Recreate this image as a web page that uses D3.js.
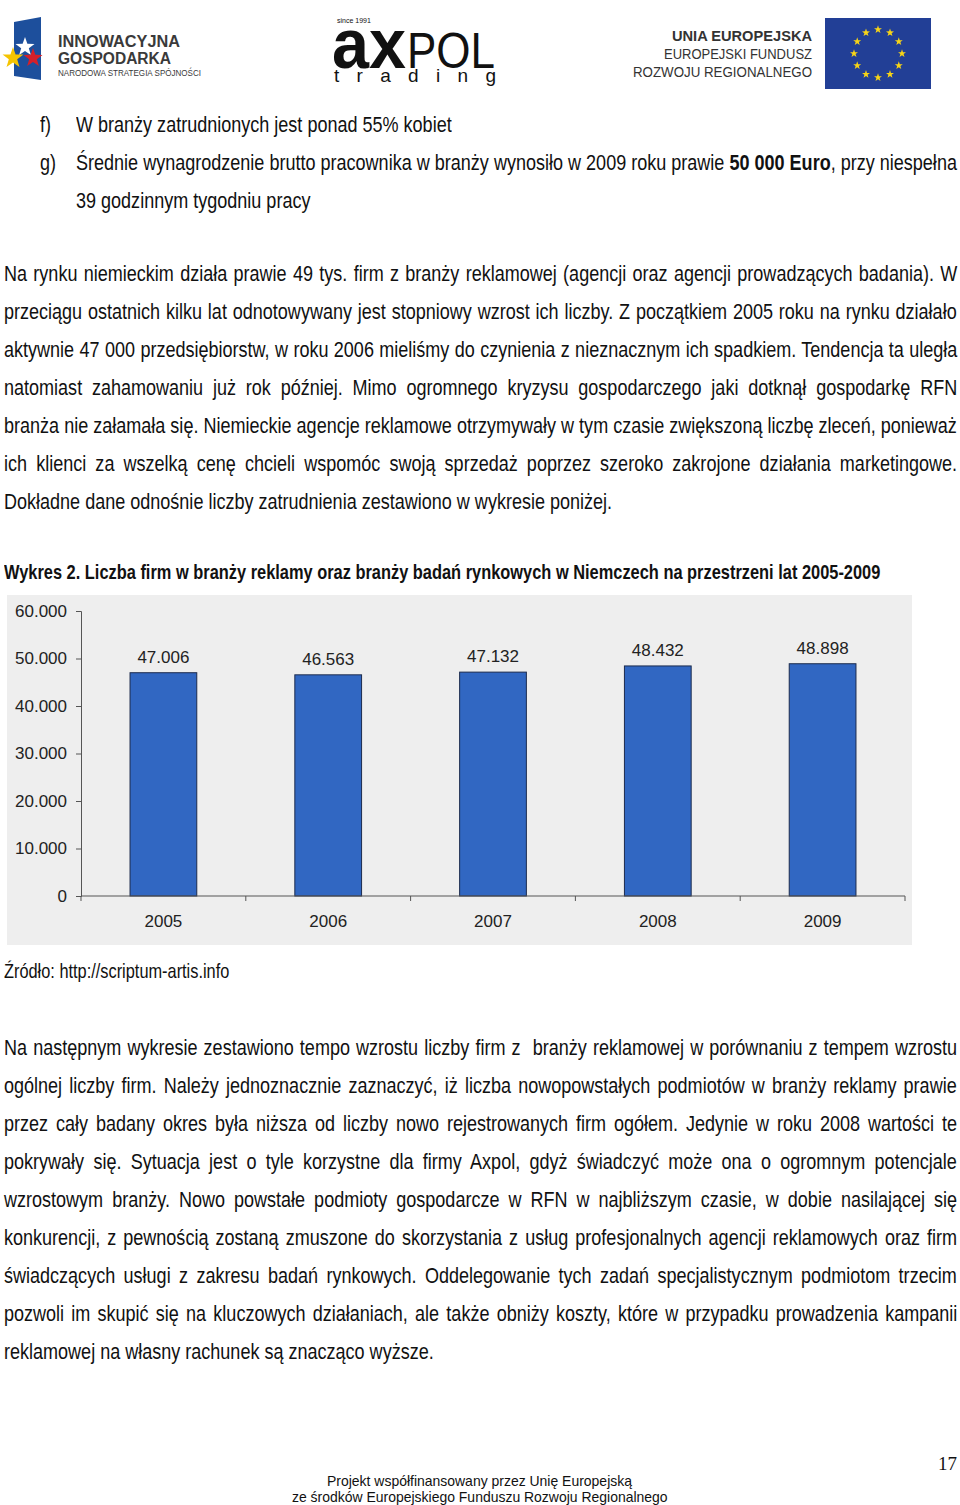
<!DOCTYPE html>
<html><head><meta charset="utf-8">
<script src="https://cdn.jsdelivr.net/npm/d3@7"></script>
<style>
html,body{margin:0;padding:0;background:#fff;}
#page{position:relative;width:960px;height:1505px;overflow:hidden;background:#fff;}
svg{position:absolute;left:0;top:0;}
.ln{position:absolute;white-space:pre;font-family:"Liberation Sans",Arial,sans-serif;font-size:22px;color:#111;line-height:1;transform-origin:0 0;}
</style></head>
<body><div id="page"></div>
<script>
// ---------- data ----------
const years = ["2005","2006","2007","2008","2009"];
const firms = [47006, 46563, 47132, 48432, 48898];
const yTicks = [0,10000,20000,30000,40000,50000,60000];

const listLines = [
  {mark:"f)", text:"W branży zatrudnionych jest ponad 55% kobiet", just:false},
  {mark:"g)", text:"Średnie wynagrodzenie brutto pracownika w branży wynosiło w 2009 roku prawie <b>50 000 Euro</b>, przy niespełna", just:true},
  {mark:"", text:"39 godzinnym tygodniu pracy", just:false}
];
const para1 = [
  "Na rynku niemieckim działa prawie 49 tys. firm z branży reklamowej (agencji oraz agencji prowadzących badania). W",
  "przeciągu ostatnich kilku lat odnotowywany jest stopniowy wzrost ich liczby. Z początkiem 2005 roku na rynku działało",
  "aktywnie 47 000 przedsiębiorstw, w roku 2006 mieliśmy do czynienia z nieznacznym ich spadkiem. Tendencja ta uległa",
  "natomiast zahamowaniu już rok później. Mimo ogromnego kryzysu gospodarczego jaki dotknął gospodarkę RFN",
  "branża nie załamała się. Niemieckie agencje reklamowe otrzymywały w tym czasie zwiększoną liczbę zleceń, ponieważ",
  "ich klienci za wszelką cenę chcieli wspomóc swoją sprzedaż poprzez szeroko zakrojone działania marketingowe.",
  "Dokładne dane odnośnie liczby zatrudnienia zestawiono w wykresie poniżej."
];
const chartTitle = "Wykres 2. Liczba firm w branży reklamy oraz branży badań rynkowych w Niemczech na przestrzeni lat 2005-2009";
const sourceText = "Źródło: http://scriptum-artis.info";
const para2 = [
  "Na następnym wykresie zestawiono tempo wzrostu liczby firm z  branży reklamowej w porównaniu z tempem wzrostu",
  "ogólnej liczby firm. Należy jednoznacznie zaznaczyć, iż liczba nowopowstałych podmiotów w branży reklamy prawie",
  "przez cały badany okres była niższa od liczby nowo rejestrowanych firm ogółem. Jedynie w roku 2008 wartości te",
  "pokrywały się. Sytuacja jest o tyle korzystne dla firmy Axpol, gdyż świadczyć może ona o ogromnym potencjale",
  "wzrostowym branży. Nowo powstałe podmioty gospodarcze w RFN w najbliższym czasie, w dobie nasilającej się",
  "konkurencji, z pewnością zostaną zmuszone do skorzystania z usług profesjonalnych agencji reklamowych oraz firm",
  "świadczących usługi z zakresu badań rynkowych. Oddelegowanie tych zadań specjalistycznym podmiotom trzecim",
  "pozwoli im skupić się na kluczowych działaniach, ale także obniży koszty, które w przypadku prowadzenia kampanii",
  "reklamowej na własny rachunek są znacząco wyższe."
];
const footerLines = ["Projekt współfinansowany przez Unię Europejską","ze środków Europejskiego Funduszu Rozwoju Regionalnego"];
const pageNumber = "17";

// ---------- helpers ----------
const page = d3.select("#page");
function natWidth(html, size, bold) {
  const d = page.append("div").attr("class","ln").html(html).style("font-size",size+"px").style("visibility","hidden");
  if (bold) d.style("font-weight","bold");
  const w = d.node().offsetWidth; d.remove(); return w;
}
// narrow-face emulation: horizontal squeeze of Liberation Sans
const FS = 22;
const SX = 376 / natWidth(listLines[0].text, FS);

function line(html, x, baseline, opts={}) {
  const fs = opts.size || FS;
  const sx = opts.scale || SX;
  const d = page.append("div").attr("class","ln").html(html)
    .style("left", x+"px").style("font-size", fs+"px")
    .style("top", (baseline - fs*0.8465)+"px")
    .style("transform", `scaleX(${sx})`);
  if (opts.bold) d.style("font-weight","bold");
  const node = d.node();
  const w = node.offsetWidth;
  if (opts.right != null) {
    const target = (opts.right - x)/sx;
    const spaces = (node.textContent.match(/ /g)||[]).length;
    if (spaces) d.style("word-spacing", ((target - w)/spaces)+"px");
  }
  if (opts.center != null) d.style("left", (opts.center - w*sx/2)+"px");
  return d;
}

// ---------- text ----------
const LH = 38;
listLines.forEach((l,i)=>{
  const b = 133 + i*LH;
  if (l.mark) line(l.mark, 40, b);
  line(l.text, 76, b, l.just ? {right:957} : {});
});
para1.forEach((t,i)=>{
  line(t, 4, 282 + i*LH, i < para1.length-1 ? {right:957} : {});
});
line(chartTitle, 4, 579, {bold:true, size:21, scale: 876/natWidth(chartTitle,21,true)});
line(sourceText, 4, 977.5, {size:21, scale: 225/natWidth(sourceText,21)});
para2.forEach((t,i)=>{
  line(t, 4, 1056 + i*LH, i < para2.length-1 ? {right:957} : {});
});
const footScale = 376/natWidth(footerLines[1],15);
footerLines.forEach((t,i)=>{
  line(t, 0, 1486 + i*16, {size:15, scale:footScale, center:480});
});
page.append("div").attr("class","ln").text(pageNumber)
  .style("font-family","'Liberation Serif','DejaVu Serif',serif").style("font-size","19px")
  .style("left","938px").style("top","1454px");

// ---------- svg (logos + chart) ----------
const svg = page.append("svg").attr("width",960).attr("height",1505);

function starPath(cx, cy, r) {
  const pts = [];
  for (let k=0;k<10;k++){
    const a = -Math.PI/2 + k*Math.PI/5;
    const rr = k%2===0 ? r : r*0.4;
    pts.push([cx+rr*Math.cos(a), cy+rr*Math.sin(a)]);
  }
  return "M"+pts.map(p=>p.join(",")).join("L")+"Z";
}

// left logo
const lg = svg.append("g").attr("font-family","'Liberation Sans',Arial,sans-serif").attr("fill","#3a3a3a");
lg.append("path").attr("d","M14,22 L41,17 L41,80 L14,76 Z").attr("fill","#1d4f9c");
lg.append("path").attr("d",starPath(25,47,10)).attr("fill","#ffffff");
lg.append("path").attr("d",starPath(13,58,11)).attr("fill","#f5c400");
lg.append("path").attr("d",starPath(33,58,10)).attr("fill","#d4202a");
lg.append("text").attr("x",58).attr("y",47).text("INNOWACYJNA").attr("font-weight","bold").attr("font-size",16)
  .attr("textLength",122).attr("lengthAdjust","spacingAndGlyphs");
lg.append("text").attr("x",58).attr("y",64).text("GOSPODARKA").attr("font-weight","bold").attr("font-size",16)
  .attr("textLength",113).attr("lengthAdjust","spacingAndGlyphs");
lg.append("text").attr("x",58).attr("y",76).text("NARODOWA STRATEGIA SPÓJNOŚCI").attr("font-size",9)
  .attr("textLength",143).attr("lengthAdjust","spacingAndGlyphs");

// center logo
const cg = svg.append("g").attr("font-family","'Liberation Sans',Arial,sans-serif").attr("fill","#111");
cg.append("text").attr("x",337).attr("y",23).text("since 1991").attr("font-size",7);
cg.append("text").attr("x",332).attr("y",68).text("ax").attr("font-weight","bold").attr("font-size",70)
  .attr("textLength",74).attr("lengthAdjust","spacingAndGlyphs");
cg.append("text").attr("x",407).attr("y",68).text("POL").attr("font-size",50)
  .attr("textLength",88).attr("lengthAdjust","spacingAndGlyphs");
cg.append("text").attr("x",334).attr("y",82).text("trading").attr("font-size",19)
  .attr("textLength",162).attr("lengthAdjust","spacing");

// right logo
const rg = svg.append("g").attr("font-family","'Liberation Sans',Arial,sans-serif").attr("fill","#333").attr("text-anchor","start");
rg.append("text").attr("x",672).attr("y",41).text("UNIA EUROPEJSKA").attr("font-weight","bold").attr("font-size",15)
  .attr("textLength",140).attr("lengthAdjust","spacingAndGlyphs");
rg.append("text").attr("x",664).attr("y",59).text("EUROPEJSKI FUNDUSZ").attr("font-size",15)
  .attr("textLength",148).attr("lengthAdjust","spacingAndGlyphs");
rg.append("text").attr("x",633).attr("y",77).text("ROZWOJU REGIONALNEGO").attr("font-size",15)
  .attr("textLength",179).attr("lengthAdjust","spacingAndGlyphs");
svg.append("rect").attr("x",825).attr("y",18).attr("width",106).attr("height",71).attr("fill","#223f96");
for (let k=0;k<12;k++){
  const a = k*Math.PI/6;
  svg.append("path").attr("d",starPath(878+24*Math.cos(a), 53.5+24*Math.sin(a), 4.2)).attr("fill","#f7d417");
}

// chart
const fmt = d3.formatLocale({decimal:",", thousands:".", grouping:[3], currency:["",""]}).format(",.0f");
const ch = svg.append("g");
ch.append("rect").attr("x",7).attr("y",595).attr("width",905).attr("height",350).attr("fill","#eeeeee");

const x = d3.scaleBand().domain(years).range([81,905]).paddingInner(0.595).paddingOuter(0.2975);
const y = d3.scaleLinear().domain([0,60000]).range([896,611]);

ch.selectAll("rect.bar").data(firms).join("rect").attr("class","bar")
  .attr("x",(d,i)=>x(years[i])).attr("y",d=>y(d))
  .attr("width",x.bandwidth()).attr("height",d=>y(0)-y(d))
  .attr("fill","#3167c2").attr("stroke","#1c2b4d").attr("stroke-width",1);

ch.selectAll("text.val").data(firms).join("text").attr("class","val")
  .attr("x",(d,i)=>x(years[i])+x.bandwidth()/2).attr("y",d=>y(d)-10)
  .attr("text-anchor","middle").attr("font-family","'Liberation Sans',Arial,sans-serif").attr("font-size",17).attr("fill","#222")
  .text(d=>fmt(d));

const yAxis = ch.append("g").attr("transform","translate(81,0)")
  .call(d3.axisLeft(y).tickValues(yTicks).tickFormat(fmt).tickSize(5).tickPadding(9));
yAxis.select(".domain").attr("stroke","#555");
yAxis.selectAll(".tick line").attr("stroke","#555");
yAxis.selectAll("text").attr("font-family","'Liberation Sans',Arial,sans-serif").attr("font-size",17).attr("fill","#222");

const xAxis = ch.append("g").attr("transform","translate(0,896)")
  .call(d3.axisBottom(x).tickSize(0).tickPadding(31));
xAxis.select(".domain").attr("stroke","#555").attr("d","M81,0H905");
xAxis.selectAll("text").attr("font-family","'Liberation Sans',Arial,sans-serif").attr("font-size",17).attr("fill","#222").attr("dy","0");
const edges = years.map((yr,i)=> x.range()[0] + i*x.step()).concat([x.range()[1]]);
xAxis.selectAll("line.edge").data(edges).join("line").attr("class","edge")
  .attr("x1",d=>d).attr("x2",d=>d).attr("y1",0).attr("y2",5).attr("stroke","#555");
</script></body></html>
